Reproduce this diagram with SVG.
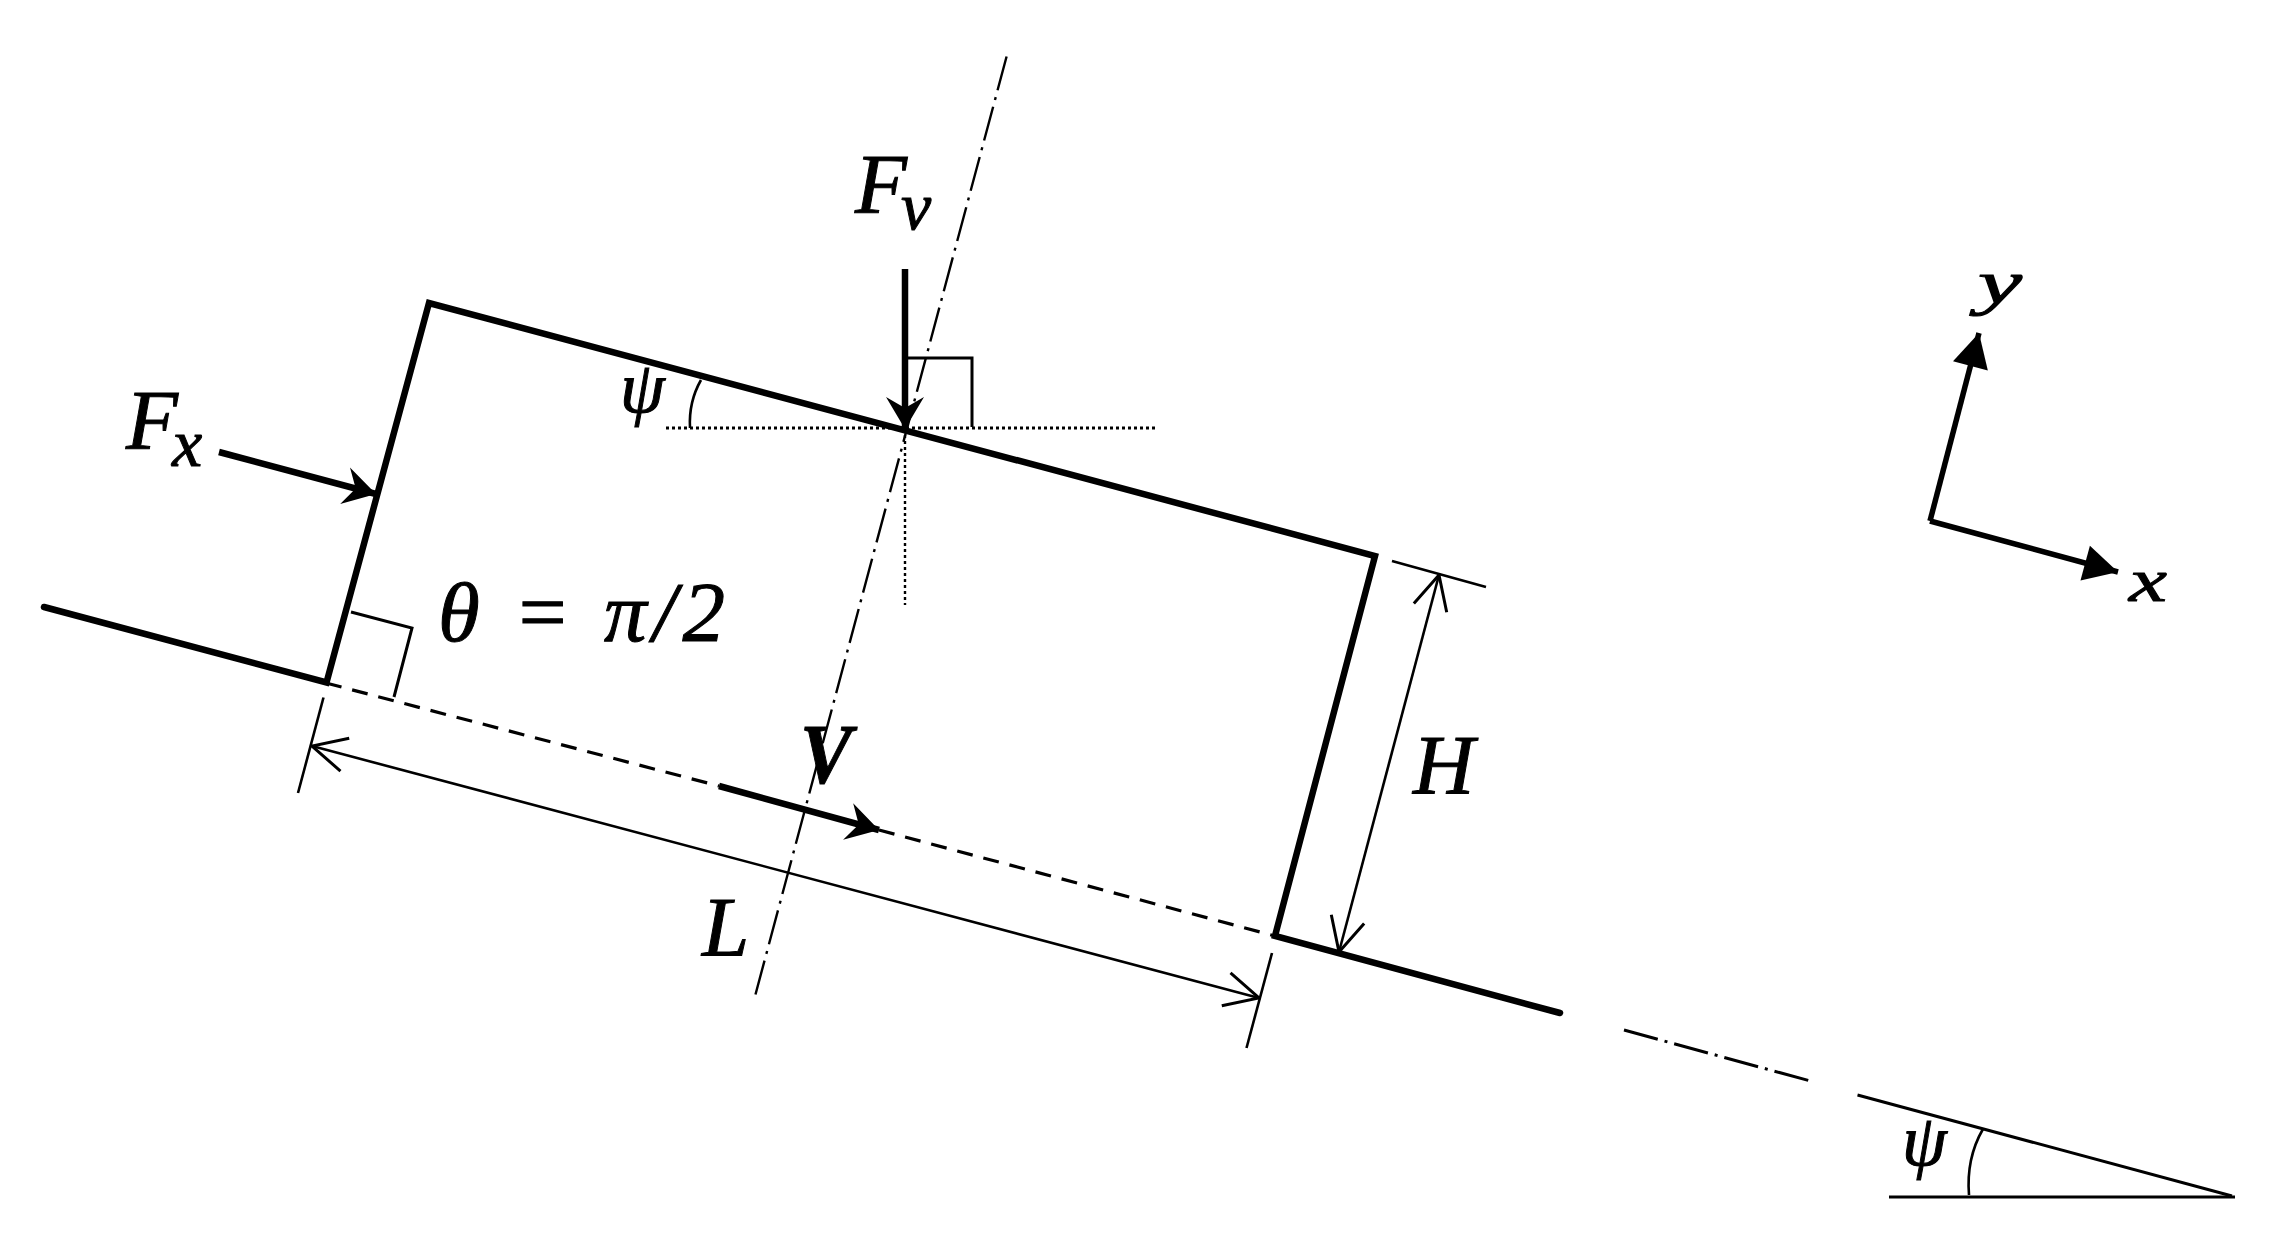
<svg xmlns="http://www.w3.org/2000/svg" width="2288" height="1237" viewBox="0 0 2288 1237">
<defs>
<style>
text{font-family:"Liberation Serif","Times New Roman",serif;font-style:italic;fill:#000;stroke:#000;stroke-width:1}
.sym{font-size:85px}
.sub{font-size:68px}
.axis{font-size:62px}
.psi{font-size:72px}
line,path,polyline{fill:none;stroke:#000;stroke-linecap:butt;stroke-linejoin:miter}
.wall{stroke-width:6.5;stroke-linecap:round}
.thin{stroke-width:2.6}
.mid{stroke-width:3}
.dash{stroke-width:3.2;stroke-dasharray:16 11}
.center{stroke-width:2.4;stroke-dasharray:35 7 3 7}
.dot{stroke-width:3;stroke-dasharray:3 3}
.force{stroke-width:6.5;marker-end:url(#stealth)}
.dim{stroke-width:2.6;marker-start:url(#open-s);marker-end:url(#open)}
.ax{stroke-width:5.5;marker-end:url(#solid)}
</style>
<marker id="stealth" markerUnits="userSpaceOnUse" viewBox="-36 -22 38 44" refX="0" refY="0" markerWidth="38" markerHeight="44" orient="auto"><path d="M0,0 L-32,-19 L-21,0 L-32,19 Z" style="fill:#000;stroke:none"/></marker>
<marker id="open" markerUnits="userSpaceOnUse" viewBox="-38 -22 40 44" refX="0" refY="0" markerWidth="40" markerHeight="44" orient="auto"><path d="M-34,-17 L0,0 L-34,17" style="stroke-width:3"/></marker>
<marker id="open-s" markerUnits="userSpaceOnUse" viewBox="-2 -22 40 44" refX="0" refY="0" markerWidth="40" markerHeight="44" orient="auto"><path d="M34,-17 L0,0 L34,17" style="stroke-width:3"/></marker>
<marker id="solid" markerUnits="userSpaceOnUse" viewBox="-38 -22 40 44" refX="0" refY="0" markerWidth="40" markerHeight="44" orient="auto"><path d="M-34,-18 L0,0 L-34,18 Z" style="fill:#000;stroke:none"/></marker>
</defs>
<rect width="2288" height="1237" fill="#fff"/>
<g id="connectors">
<line class="center" x1="1006.6" y1="56.5" x2="754" y2="1000"/>
<line class="dash" x1="326" y1="683" x2="719" y2="786"/>
<line class="dash" x1="879" y1="830" x2="1275" y2="936"/>
<line class="dot" x1="666" y1="428" x2="1156" y2="428"/>
<line class="dot" style="stroke-width:2.4" x1="905" y1="429" x2="905" y2="605"/>
<line class="center" style="stroke-width:3" x1="1624" y1="1030" x2="1814" y2="1082"/>
</g>
<g id="channel">
<polyline class="wall" points="44,607 326.5,682.5 429,303 1375,556 1275,936 1560,1013"/>
</g>
<g id="right-angles">
<polyline class="mid" points="906,358 972,358 972,427"/>
<polyline class="mid" points="351,612 412,628 394,697"/>
</g>
<g id="dimensions">
<line class="thin" x1="323.5" y1="697.5" x2="298" y2="793"/>
<line class="thin" x1="1272" y1="953" x2="1246.5" y2="1048"/>
<line class="dim" x1="312" y1="746" x2="1259" y2="998"/>
<line class="thin" x1="1392" y1="561" x2="1486" y2="587"/>
<line class="dim" x1="1439" y1="575" x2="1339" y2="952"/>
</g>
<g id="force-arrows">
<line class="force" x1="905" y1="269" x2="905" y2="429"/>
<line class="force" x1="219" y1="452" x2="376" y2="494"/>
<line class="force" x1="719" y1="786" x2="879" y2="830"/>
</g>
<g id="angle-top">
<path class="thin" d="M690,428 C689,410 693,394 701,380"/>
<text class="psi" x="620" y="412">ψ</text>
</g>
<g id="slope-triangle">
<line class="mid" x1="1857.5" y1="1095" x2="2232" y2="1196"/>
<line class="mid" x1="1889" y1="1197" x2="2235" y2="1197"/>
<path class="thin" d="M1969,1195 C1967,1170 1972,1148 1983,1129"/>
<text class="psi" x="1902" y="1165">ψ</text>
</g>
<g id="axes">
<line class="ax" x1="1930" y1="521" x2="2118" y2="572"/>
<line class="ax" x1="1930" y1="521" x2="1979" y2="333"/>
<text class="axis" x="1978" y="303" textLength="44" lengthAdjust="spacingAndGlyphs">y</text>
<text class="axis" x="2129" y="601" textLength="38" lengthAdjust="spacingAndGlyphs">x</text>
</g>
<g id="label-Fv">
<text class="sym" x="855" y="213">F<tspan class="sub" dx="-6" dy="16">v</tspan></text>
</g>
<g id="label-Fx">
<text class="sym" x="126" y="449">F<tspan class="sub" dx="-6" dy="17">x</tspan></text>
</g>
<g id="label-theta">
<text class="sym" x="438" y="641" textLength="287" lengthAdjust="spacing">θ = π/2</text>
</g>
<g id="label-V">
<text class="sym" x="800" y="783" style="font-weight:bold" textLength="52" lengthAdjust="spacingAndGlyphs">V</text>
</g>
<g id="label-L">
<text class="sym" x="702" y="956">L</text>
</g>
<g id="label-H">
<text class="sym" x="1413" y="794">H</text>
</g>
</svg>
